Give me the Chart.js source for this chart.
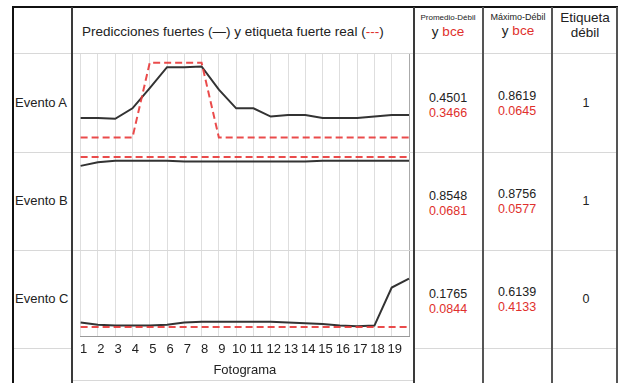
<!DOCTYPE html>
<html>
<head>
<meta charset="utf-8">
<script src="https://cdn.jsdelivr.net/npm/chart.js@4"></script>
<style>
  body { margin: 0; background: #fff; }
  #wrap { position: relative; width: 618px; height: 383px; overflow: hidden; font-family: 'Liberation Sans', Arial, sans-serif; color: #222; }
  .ln { position: absolute; }
  .t { position: absolute; white-space: nowrap; line-height: 1; }
  .c { transform: translate(-50%, -50%); text-align: center; }
  .red { color: #e0302c; }
  #chartBox { position: absolute; left: 72px; top: 53px; width: 342px; height: 330px; }
</style>
</head>
<body>
<div id="wrap">
  <div id="chartBox"><canvas id="strong-chart" width="342" height="330"></canvas></div>

  <!-- table lines -->
  <div class="ln" style="left:13px;top:53px;width:605px;height:1px;background:#d8d8d8"></div>
  <div class="ln" style="left:13px;top:152px;width:605px;height:1px;background:#d8d8d8"></div>
  <div class="ln" style="left:13px;top:250px;width:605px;height:1px;background:#d8d8d8"></div>
  <div class="ln" style="left:13px;top:348px;width:59px;height:1px;background:#d8d8d8"></div>
  <div class="ln" style="left:414px;top:348px;width:204px;height:1px;background:#d8d8d8"></div>
  <div class="ln" style="left:72px;top:380px;width:342px;height:1px;background:#d8d8d8"></div>
  <div class="ln" style="left:12px;top:6px;width:606px;height:2px;background:#111"></div>
  <div class="ln" style="left:12px;top:6px;width:2px;height:377px;background:#111"></div>
  <div class="ln" style="left:71px;top:7px;width:2px;height:376px;background:#3a3a3a"></div>
  <div class="ln" style="left:413px;top:7px;width:2px;height:376px;background:#3a3a3a"></div>
  <div class="ln" style="left:482px;top:7px;width:2px;height:376px;background:#555"></div>
  <div class="ln" style="left:551px;top:7px;width:2px;height:376px;background:#555"></div>
  <div class="ln" style="left:616px;top:7px;width:2px;height:376px;background:#555"></div>

  <!-- header -->
  <div class="t" style="left:82px;top:25px;font-size:13.5px">Predicciones fuertes (—) y etiqueta fuerte real (<span class="red">---</span>)</div>
  <div class="t c" style="left:448px;top:18px;font-size:8px">Promedio-Débil</div>
  <div class="t c" style="left:448px;top:32px;font-size:13.5px">y <span class="red">bce</span></div>
  <div class="t c" style="left:518px;top:17px;font-size:9px">Máximo-Débil</div>
  <div class="t c" style="left:518px;top:31px;font-size:13.5px">y <span class="red">bce</span></div>
  <div class="t c" style="left:585px;top:18px;font-size:13.5px">Etiqueta</div>
  <div class="t c" style="left:585px;top:33px;font-size:13.5px">débil</div>

  <div id="cells"></div>
</div>

<script>
// frame labels (20 points, 19 labelled)
const frames = ['1','2','3','4','5','6','7','8','9','10','11','12','13','14','15','16','17','18','19','']

// strong predictions (black) and true strong label (red dashed)
const predA  = [0.26,0.26,0.25,0.39,0.66,0.94,0.94,0.95,0.64,0.39,0.39,0.28,0.30,0.30,0.26,0.26,0.26,0.28,0.30,0.30]
const labelA = [0,0,0,0,1,1,1,1,0,0,0,0,0,0,0,0,0,0,0,0]
const predB  = [0.88,0.93,0.95,0.95,0.95,0.95,0.94,0.94,0.94,0.94,0.94,0.94,0.94,0.94,0.95,0.95,0.95,0.95,0.95,0.95]
const labelB = [1,1,1,1,1,1,1,1,1,1,1,1,1,1,1,1,1,1,1,1]
const predC  = [0.06,0.03,0.02,0.02,0.02,0.03,0.06,0.07,0.07,0.07,0.07,0.07,0.06,0.05,0.04,0.02,0.01,0.02,0.53,0.65]
const labelC = [0,0,0,0,0,0,0,0,0,0,0,0,0,0,0,0,0,0,0,0]

// table values
const events     = ['Evento A','Evento B','Evento C']
const meanWeak   = ['0.4501','0.8548','0.1765']
const meanBce    = ['0.3466','0.0681','0.0844']
const maxWeak    = ['0.8619','0.8756','0.6139']
const maxBce     = ['0.0645','0.0577','0.4133']
const weakLabel  = ['1','1','0']

const rowMid = [102, 200, 298]
const cells = document.getElementById('cells')
function addText(x, y, txt, size, cls) {
    const d = document.createElement('div')
    d.className = 't' + (cls ? ' ' + cls : '')
    d.style.left = x + 'px'
    d.style.top = y + 'px'
    d.style.fontSize = size + 'px'
    d.textContent = txt
    cells.appendChild(d)
}
events.forEach(function(ev, i) {
    addText(15, rowMid[i] - 6, ev, 13)
    addText(448, rowMid[i] - 4, meanWeak[i], 12.5, 'c')
    addText(448, rowMid[i] + 11, meanBce[i], 12.5, 'c red')
    addText(517, rowMid[i] - 6, maxWeak[i], 12.5, 'c')
    addText(517, rowMid[i] + 9, maxBce[i], 12.5, 'c red')
    addText(586, rowMid[i] + 1, weakLabel[i], 12.5, 'c')
})

function predSet(data, axis) {
    return { data: data, yAxisID: axis, borderColor: '#333', borderWidth: 2, pointRadius: 0, tension: 0, fill: false }
}
function labelSet(data, axis) {
    return { data: data, yAxisID: axis, borderColor: 'rgba(232,55,55,0.9)', borderWidth: 2, borderDash: [7, 4], pointRadius: 0, tension: 0, fill: false }
}
function panelAxis(weight, min, max) {
    return {
        stack: 'panels', stackWeight: weight, min: min, max: max,
        ticks: { display: false }, grid: { display: false, drawTicks: false }, border: { display: false }
    }
}

const ctx = document.getElementById('strong-chart').getContext('2d')
const strongChart = new Chart(ctx, {
    type: 'line',
    data: {
        labels: frames,
        datasets: [
            labelSet(labelA, 'yA'),
            predSet(predA, 'yA'),
            labelSet(labelB, 'yB'),
            predSet(predB, 'yB'),
            labelSet(labelC, 'yC'),
            predSet(predC, 'yC')
        ]
    },
    options: {
        responsive: false,
        animation: false,
        devicePixelRatio: 1,
        layout: { padding: { left: 5, right: 4, top: 0, bottom: 5 } },
        plugins: { legend: { display: false }, tooltip: { enabled: false } },
        scales: {
            x: {
                offset: false,
                grid: { color: c => c.index === 19 ? '#aaa' : '#dedede', drawTicks: false },
                border: { color: '#999' },
                ticks: { autoSkip: false, maxRotation: 0, padding: 5, labelOffset: 3, color: '#222', font: { family: 'Liberation Sans', size: 13 } },
                title: { display: true, text: 'Fotograma', color: '#222', padding: 0, font: { family: 'Liberation Sans', size: 13 } }
            },
            // stacked panels: the last one listed ends up on top
            yC: panelAxis(92, -0.13, 1.08),
            yB: panelAxis(98, -0.20, 1.09),
            yA: panelAxis(99, -0.17, 1.13)
        }
    }
})
</script>
</body>
</html>
